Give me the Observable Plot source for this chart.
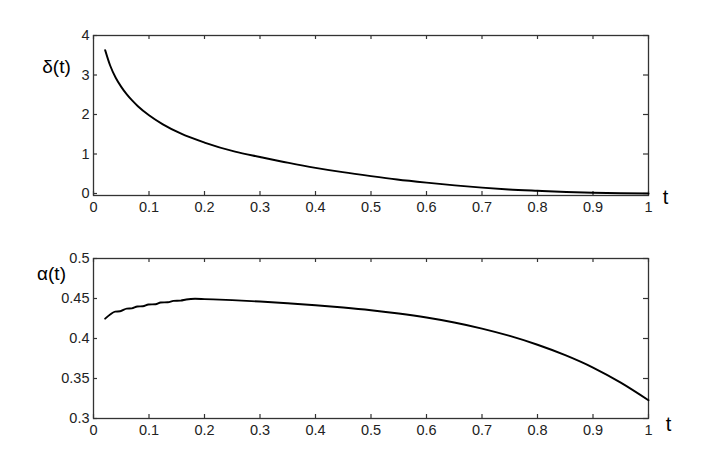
<!DOCTYPE html>
<html>
<head>
<meta charset="utf-8">
<script src="https://cdn.jsdelivr.net/npm/d3@7"></script>
<script src="https://cdn.jsdelivr.net/npm/@observablehq/plot@0.6"></script>
<style>
  body { margin: 0; background: #fff; }
  #chart { width: 716px; height: 470px; }
  #chart svg { display: block; }
</style>
</head>
<body>
<div id="chart"></div>
<script>
// delta(t) readings
const tDelta = [0.021, 0.03, 0.04, 0.05, 0.06, 0.07, 0.08, 0.1, 0.125, 0.157, 0.2, 0.255, 0.3, 0.352, 0.4, 0.449, 0.5, 0.547, 0.6, 0.651, 0.7, 0.748, 0.8, 0.852, 0.9, 0.95, 1.0];
const delta  = [3.63, 3.24, 2.93, 2.70, 2.51, 2.35, 2.21, 1.98, 1.75, 1.52, 1.29, 1.06, 0.925, 0.775, 0.65, 0.54, 0.44, 0.355, 0.275, 0.206, 0.148, 0.103, 0.068, 0.037, 0.019, 0.007, 0.0];

// alpha(t) readings (small staircase near the start)
const tAlpha = [0.021, 0.03, 0.039, 0.048, 0.06, 0.069, 0.079, 0.089, 0.099, 0.112, 0.121, 0.134, 0.144, 0.157, 0.167, 0.183, 0.2, 0.25, 0.3, 0.35, 0.4, 0.45, 0.5, 0.55, 0.6, 0.65, 0.7, 0.75, 0.8, 0.85, 0.9, 0.95, 1.0];
const alpha  = [0.4248, 0.4300, 0.4336, 0.4340, 0.4374, 0.4377, 0.4400, 0.4403, 0.4425, 0.4429, 0.4450, 0.4453, 0.4470, 0.4474, 0.4487, 0.4496, 0.4492, 0.4480, 0.4462, 0.4440, 0.4416, 0.4387, 0.4353, 0.4312, 0.4262, 0.4200, 0.4124, 0.4032, 0.3922, 0.3792, 0.3637, 0.3448, 0.3228];

const xTicks = [0, 0.1, 0.2, 0.3, 0.4, 0.5, 0.6, 0.7, 0.8, 0.9, 1];
const deltaTicks = [0, 1, 2, 3, 4];
const alphaTicks = [0.3, 0.35, 0.4, 0.45, 0.5];

const deltaData = tDelta.map((t, i) => ({t, v: delta[i]}));
const alphaData = tAlpha.map((t, i) => ({t, v: alpha[i]}));

const fontFamily = "'Liberation Sans', Arial, Helvetica, sans-serif";
const fmtNum = d => String(d);

const W = 716, ML = 93, MR = 68;
const TICK = 4;

function panel({data, yDomain, yTicks, height, marginTop, marginBottom, label, labelDx, labelDy, tDx, tDy}) {
  const innerH = height - marginTop - marginBottom;
  const innerW = W - ML - MR;
  return Plot.plot({
    width: W,
    height,
    marginLeft: ML,
    marginRight: MR,
    marginTop,
    marginBottom,
    x: {domain: [0, 1]},
    y: {domain: yDomain},
    style: {fontFamily, fontSize: "14px", color: "#222", background: "#fff"},
    marks: [
      // tick labels
      Plot.axisX(xTicks, {anchor: "bottom", tickSize: 0, tickPadding: 6, tickFormat: fmtNum, label: null, fontSize: 14.5, fill: "#222"}),
      Plot.axisY(yTicks, {anchor: "left", tickSize: 0, tickPadding: 4, tickFormat: fmtNum, label: null, fontSize: 14.5, fill: "#222"}),
      // inward ticks on all four sides
      Plot.tickX(xTicks, {x: d => d, insetTop: innerH - TICK, stroke: "#333", strokeWidth: 1.2}),
      Plot.tickX(xTicks, {x: d => d, insetBottom: innerH - TICK, stroke: "#333", strokeWidth: 1.2}),
      Plot.tickY(yTicks, {y: d => d, insetRight: innerW - TICK, stroke: "#333", strokeWidth: 1.2}),
      Plot.tickY(yTicks, {y: d => d, insetLeft: innerW - TICK - 1, stroke: "#333", strokeWidth: 1.2}),
      Plot.frame({stroke: "#333", strokeWidth: 1.3}),
      Plot.line(data, {x: "t", y: "v", stroke: "#000", strokeWidth: 1.9, curve: "monotone-x"}),
      Plot.text([label], {frameAnchor: "top-left", dx: labelDx, dy: labelDy, textAnchor: "middle", lineAnchor: "middle", fontSize: 19, fill: "#000"}),
      Plot.text(["t"], {frameAnchor: "bottom-right", dx: tDx, dy: tDy, textAnchor: "middle", lineAnchor: "middle", fontSize: 20, fill: "#000"})
    ]
  });
}

const chart = document.getElementById("chart");
chart.append(panel({
  data: deltaData, yDomain: [-0.0506, 4], yTicks: deltaTicks,
  height: 230, marginTop: 35, marginBottom: 35,
  label: "δ(t)", labelDx: -37, labelDy: 31, tDx: 17, tDy: 2
}));
chart.append(panel({
  data: alphaData, yDomain: [0.3, 0.5], yTicks: alphaTicks,
  height: 240, marginTop: 28, marginBottom: 52,
  label: "α(t)", labelDx: -42, labelDy: 15, tDx: 20, tDy: 6
}));
</script>
</body>
</html>
